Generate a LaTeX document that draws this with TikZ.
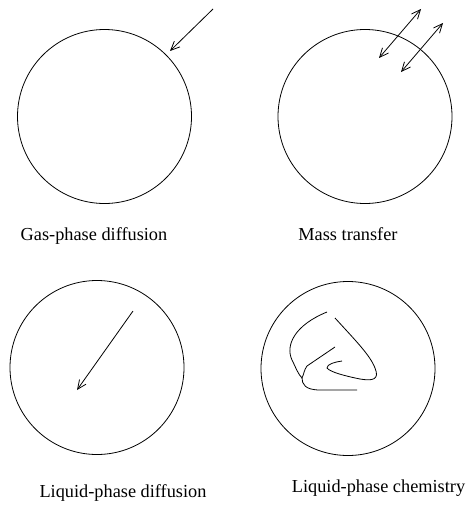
\documentclass[tikz,border=0pt]{standalone}
\usepackage{fontspec}
\setmainfont{Liberation Serif}
\usetikzlibrary{arrows.meta}
\begin{document}
\begin{tikzpicture}[x=1pt,y=-1pt,
  ball/.style={draw,circle,line width=0.8pt,minimum size=174pt,inner sep=0pt},
  lab/.style={font=\fontsize{18.3}{20}\selectfont,inner sep=0pt,anchor=base},
  arr/.style={line width=0.8pt,-{Straight Barb[length=9pt,width=8pt]}},
  darr/.style={line width=0.8pt,{Straight Barb[length=9pt,width=8pt]}-{Straight Barb[length=9pt,width=8pt]}},
  curve/.style={line width=0.8pt}]
\useasboundingbox (0,0) rectangle (469,511);
\node[ball] (c1) at (104.5,116.5) {};
\node[ball] (c2) at (365,116.5) {};
\node[ball] (c3) at (97,367.5) {};
\node[ball] (c4) at (348,368.5) {};
% arrows
\coordinate (a1s) at (213,9);
\coordinate (a1e) at (170,51);
\draw[arr] (a1s) -- (a1e);
\coordinate (b1s) at (421,9);
\coordinate (b1e) at (379,58);
\draw[darr] (b1s) -- (b1e);
\coordinate (b2s) at (443,23);
\coordinate (b2e) at (401,72);
\draw[darr] (b2s) -- (b2e);
\coordinate (d1s) at (133,311);
\coordinate (d1e) at (77,390);
\draw[arr] (d1s) -- (d1e);
% squiggle
\draw[curve] (327,312) .. controls (295,325) and (285,345) .. (292,360)
  .. controls (296,368) and (298,374) .. (302,378)
  .. controls (304,374) and (304,370) .. (307,366)
  -- (335,347);
\draw[curve] (302,378) .. controls (302,384) and (305,390) .. (320,390)
  -- (357,390);
\draw[curve] (335,318) .. controls (355,340) and (370,355) .. (375,368)
  .. controls (380,380) and (372,381) .. (360,379)
  .. controls (345,376) and (330,372) .. (327,368)
  .. controls (327,364) and (335,362) .. (342,361);
% labels
\node[lab] (l1) at (94,240) {Gas-phase diffusion};
\node[lab] (l2) at (348,240) {Mass transfer};
\node[lab] (l3) at (123,497) {Liquid-phase diffusion};
\node[lab] (l4) at (378.5,492) {Liquid-phase chemistry};
\end{tikzpicture}
\end{document}
